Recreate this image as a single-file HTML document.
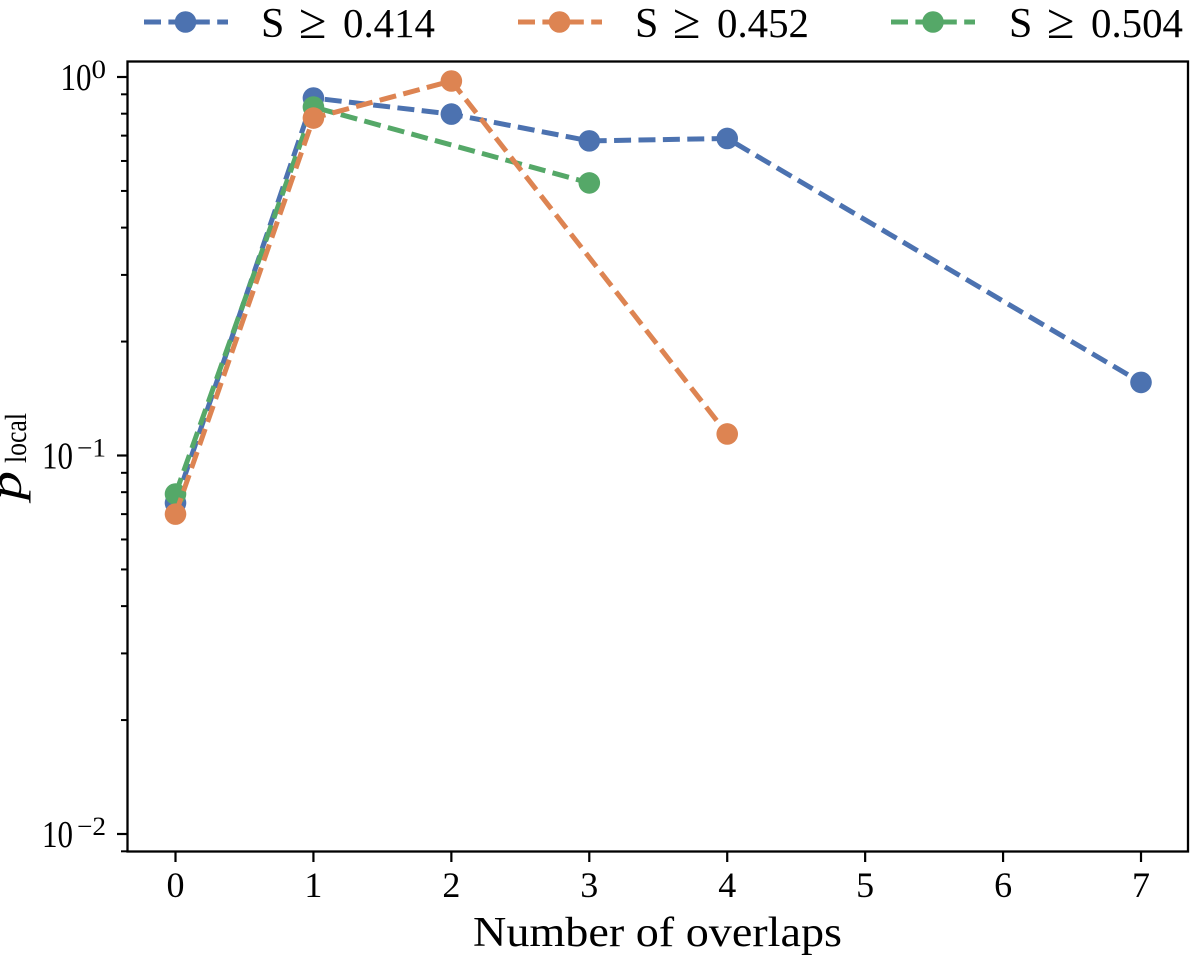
<!DOCTYPE html>
<html lang="en">
<head>
<meta charset="utf-8">
<title>Local p-value by number of overlaps</title>
<style>
html,body{margin:0;padding:0;background:#fff;width:1200px;height:957px;overflow:hidden}
svg{display:block}
text{font-family:"Liberation Serif",serif;fill:#000}
</style>
</head>
<body>
<svg id="chart" xmlns="http://www.w3.org/2000/svg" width="1200" height="957" viewBox="0 0 1200 957">
  <rect x="0" y="0" width="1200" height="957" fill="#fff"/>
  <g id="ticks"></g>
  <g id="marks"></g>
  <rect x="127.5" y="61.5" width="1060.5" height="790" fill="none" stroke="#000" stroke-width="2.3"/>
  <text x="473" y="946" font-size="42" textLength="369" lengthAdjust="spacingAndGlyphs">Number of overlaps</text>
  <g transform="translate(21,500) rotate(-90)">
    <text x="0" y="0" font-size="46" font-style="italic" textLength="29" lengthAdjust="spacingAndGlyphs">p</text>
    <text x="37" y="5" font-size="31" textLength="50" lengthAdjust="spacingAndGlyphs">local</text>
  </g>
  <g>
    <g>
      <line x1="144" y1="22" x2="228" y2="22" stroke="#4c72b0" stroke-width="5" stroke-dasharray="17 7.4"/>
      <circle cx="185.5" cy="22" r="10.8" fill="#4c72b0"/>
      <text x="261" y="37" font-size="42">S</text>
      <text x="299" y="38" font-size="50">≥</text>
      <text x="343" y="37" font-size="41" textLength="92" lengthAdjust="spacingAndGlyphs">0.414</text>
    </g>
    <g>
      <line x1="518" y1="22" x2="602" y2="22" stroke="#dd8452" stroke-width="5" stroke-dasharray="17 7.4"/>
      <circle cx="559.5" cy="22" r="10.8" fill="#dd8452"/>
      <text x="635" y="37" font-size="42">S</text>
      <text x="673" y="38" font-size="50">≥</text>
      <text x="717" y="37" font-size="41" textLength="92" lengthAdjust="spacingAndGlyphs">0.452</text>
    </g>
    <g>
      <line x1="891" y1="22" x2="975" y2="22" stroke="#55a868" stroke-width="5" stroke-dasharray="17 7.4"/>
      <circle cx="933" cy="22" r="10.8" fill="#55a868"/>
      <text x="1009" y="37" font-size="42">S</text>
      <text x="1047" y="38" font-size="50">≥</text>
      <text x="1091" y="37" font-size="41" textLength="92" lengthAdjust="spacingAndGlyphs">0.504</text>
    </g>
  </g>
</svg>
<script>
const xTickValues = [0, 1, 2, 3, 4, 5, 6, 7];
const xTickLabels = ["0", "1", "2", "3", "4", "5", "6", "7"];
const yMajorTickValues = [1, 0.1, 0.01];
const yMajorTickLabels = ["0", "\u22121", "\u22122"];
const yMinorTickValues = [0.9, 0.8, 0.7, 0.6, 0.5, 0.4, 0.3, 0.2, 0.09, 0.08, 0.07, 0.06, 0.05, 0.04, 0.03, 0.02, 0.009];

const blueOverlaps = [0, 1, 2, 3, 4, 7];
const blueValues = [0.0749, 0.880, 0.798, 0.678, 0.688, 0.156];
const greenOverlaps = [0, 1, 3];
const greenValues = [0.0791, 0.833, 0.525];
const orangeOverlaps = [0, 1, 2, 4];
const orangeValues = [0.0700, 0.779, 0.976, 0.114];

const NS = "http://www.w3.org/2000/svg";
const ticksLayer = document.getElementById("ticks");
const marksLayer = document.getElementById("marks");

function xScale(v) { return 175.5 + v * 137.93; }
function yScale(v) { return 77 - Math.log10(v) * 378.5; }

xTickValues.forEach(function (v, i) {
  const t = document.createElementNS(NS, "line");
  
  
  t.setAttribute("x1", xScale(v));
  t.setAttribute("x2", xScale(v));
  t.setAttribute("y1", 851);
  t.setAttribute("y2", 862);
  t.setAttribute("stroke", "#000");
  t.setAttribute("stroke-width", "2.2");
  ticksLayer.appendChild(t);
  const l = document.createElementNS(NS, "text");
  
  
  l.setAttribute("x", xScale(v));
  l.setAttribute("y", 897);
  l.setAttribute("font-size", "36");
  l.setAttribute("text-anchor", "middle");
  l.textContent = xTickLabels[i];
  ticksLayer.appendChild(l);
});

yMajorTickValues.forEach(function (v, i) {
  const y = yScale(v);
  const t = document.createElementNS(NS, "line");
  
  
  t.setAttribute("x1", 117);
  t.setAttribute("x2", 127);
  t.setAttribute("y1", y);
  t.setAttribute("y2", y);
  t.setAttribute("stroke", "#000");
  t.setAttribute("stroke-width", "2.2");
  ticksLayer.appendChild(t);
  const supWidth = yMajorTickLabels[i].length * 14.5;
  const gap = yMajorTickLabels[i].length > 1 ? 4 : 0;
  const exp = document.createElementNS(NS, "text");
  
  
  exp.setAttribute("x", 106 - supWidth);
  exp.setAttribute("y", y + 1);
  exp.setAttribute("font-size", "26");
  exp.setAttribute("textLength", supWidth);
  exp.setAttribute("lengthAdjust", "spacingAndGlyphs");
  exp.textContent = yMajorTickLabels[i];
  ticksLayer.appendChild(exp);
  const base = document.createElementNS(NS, "text");
  
  
  base.setAttribute("x", 106 - supWidth - gap - 31);
  base.setAttribute("y", y + 13);
  base.setAttribute("font-size", "38");
  base.setAttribute("textLength", "31");
  base.setAttribute("lengthAdjust", "spacingAndGlyphs");
  base.textContent = "10";
  ticksLayer.appendChild(base);
});

yMinorTickValues.forEach(function (v) {
  const y = yScale(v);
  const t = document.createElementNS(NS, "line");
  
  
  t.setAttribute("x1", 121);
  t.setAttribute("x2", 127);
  t.setAttribute("y1", y);
  t.setAttribute("y2", y);
  t.setAttribute("stroke", "#000");
  t.setAttribute("stroke-width", "2");
  ticksLayer.appendChild(t);
});

function drawSeries(xs, ys, color) {
  const points = xs.map(function (x, i) { return xScale(x) + "," + yScale(ys[i]); }).join(" ");
  const line = document.createElementNS(NS, "polyline");
  
  
  line.setAttribute("points", points);
  line.setAttribute("fill", "none");
  line.setAttribute("stroke", color);
  line.setAttribute("stroke-width", "5");
  line.setAttribute("stroke-dasharray", "17 7.4");
  marksLayer.appendChild(line);
  xs.forEach(function (x, i) {
    const c = document.createElementNS(NS, "circle");
    
    
    c.setAttribute("cx", xScale(x));
    c.setAttribute("cy", yScale(ys[i]));
    c.setAttribute("r", "10.8");
    c.setAttribute("fill", color);
    marksLayer.appendChild(c);
  });
}

drawSeries(blueOverlaps, blueValues, "#4c72b0");
drawSeries(greenOverlaps, greenValues, "#55a868");
drawSeries(orangeOverlaps, orangeValues, "#dd8452");
</script>
</body>
</html>
